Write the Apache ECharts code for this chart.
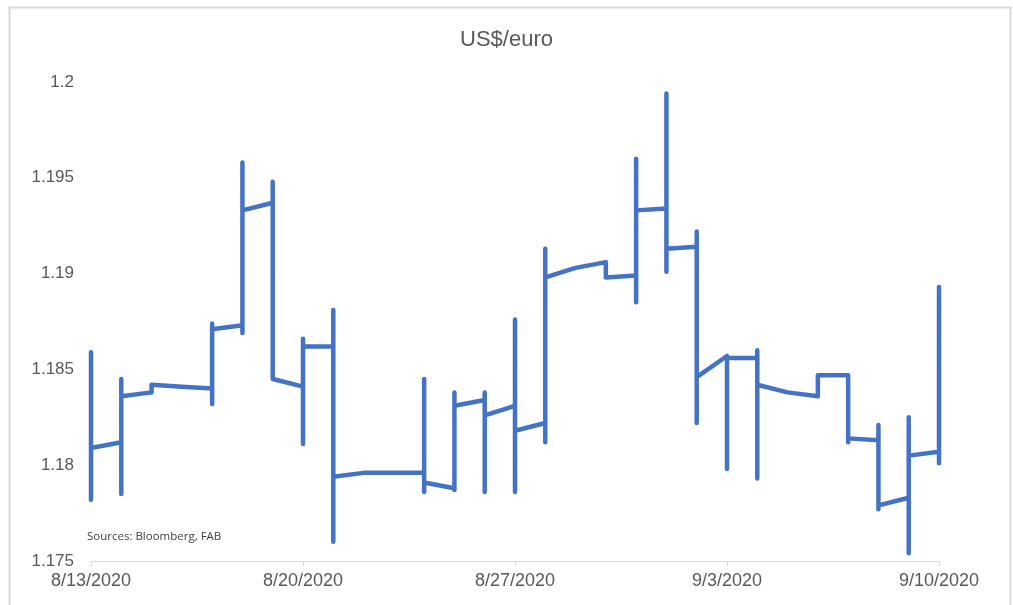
<!DOCTYPE html>
<html>
<head>
<meta charset="utf-8">
<script src="https://cdn.jsdelivr.net/npm/echarts@6/dist/echarts.min.js"></script>
<style>
html,body{margin:0;padding:0;background:#fff;}
#chart{width:1013px;height:605px;}
</style>
</head>
<body>
<div id="chart"></div>
<script>
// Daily path of US$/euro (entry, high, low, exit for each calendar day with data)
const dates = ['2020-08-13','2020-08-14','2020-08-15','2020-08-16','2020-08-17','2020-08-18','2020-08-19','2020-08-20','2020-08-21','2020-08-22','2020-08-24','2020-08-25','2020-08-26','2020-08-27','2020-08-28','2020-08-29','2020-08-30','2020-08-31','2020-09-01','2020-09-02','2020-09-03','2020-09-04','2020-09-05','2020-09-06','2020-09-07','2020-09-08','2020-09-09','2020-09-10'];
const opens  = [1.1830,1.1812,1.1838,1.1841,1.1840,1.1873,1.1937,1.1841,1.1862,1.1796,1.1796,1.1788,1.1834,1.1831,1.1822,1.1903,1.1906,1.1899,1.1934,1.1914,1.1857,1.1856,1.1838,1.1836,1.1847,1.1813,1.1783,1.1807];
const highs  = [1.1859,1.1845,1.1842,1.1841,1.1874,1.1958,1.1948,1.1866,1.1881,1.1797,1.1845,1.1838,1.1838,1.1876,1.1913,1.1903,1.1906,1.1960,1.1994,1.1922,1.1857,1.1860,1.1838,1.1847,1.1848,1.1821,1.1825,1.1893];
const lows   = [1.1782,1.1785,1.1838,1.1840,1.1832,1.1869,1.1845,1.1811,1.1760,1.1796,1.1786,1.1787,1.1786,1.1786,1.1812,1.1903,1.1898,1.1885,1.1901,1.1822,1.1798,1.1793,1.1838,1.1836,1.1812,1.1777,1.1754,1.1801];
const closes = [1.1809,1.1836,1.1842,1.1840,1.1871,1.1933,1.1846,1.1862,1.1794,1.1797,1.1791,1.1831,1.1826,1.1818,1.1898,1.1903,1.1898,1.1933,1.1913,1.1846,1.1856,1.1842,1.1838,1.1847,1.1814,1.1779,1.1805,1.1801];
const tickDates = ['8/13/2020','8/20/2020','8/27/2020','9/3/2020','9/10/2020'];
const yMin = 1.175, yMax = 1.2, yStep = 0.005;

const DAY = 86400000;
const t0 = Date.parse(dates[0] + 'T00:00:00Z');
const dayIndex = d => Math.round((Date.parse(d + 'T00:00:00Z') - t0) / DAY);
const points = [];
dates.forEach((d, i) => {
  const x = dayIndex(d);
  points.push([x, opens[i]], [x, highs[i]], [x, lows[i]], [x, closes[i]]);
});
const lastX = dayIndex(dates[dates.length - 1]);

const chart = echarts.init(document.getElementById('chart'), null, {renderer: 'canvas'});
chart.setOption({
  animation: false,
  backgroundColor: '#ffffff',
  title: {
    text: 'US$/euro',
    left: 'center',
    top: 24,
    textStyle: {fontFamily: 'Liberation Sans, Arial, sans-serif', fontSize: 22, fontWeight: 'normal', color: '#595959'}
  },
  grid: {left: 91, right: 74, top: 82, bottom: 44, containLabel: false},
  xAxis: {
    type: 'value',
    min: 0,
    max: lastX,
    interval: 7,
    axisLine: {show: true, lineStyle: {color: '#d9d9d9', width: 1}},
    axisTick: {show: true, length: 5, lineStyle: {color: '#d9d9d9'}},
    splitLine: {show: false},
    axisLabel: {
      margin: 11,
      fontFamily: 'Liberation Sans, Arial, sans-serif',
      fontSize: 18,
      color: '#595959',
      formatter: v => tickDates[Math.round(v / 7)] || ''
    }
  },
  yAxis: {
    type: 'value',
    min: yMin,
    max: yMax,
    interval: yStep,
    axisLine: {show: false},
    axisTick: {show: false},
    splitLine: {show: false},
    axisLabel: {
      margin: 17,
      fontFamily: 'Liberation Sans, Arial, sans-serif',
      fontSize: 17,
      color: '#595959',
      formatter: v => String(+v.toFixed(3))
    }
  },
  series: [{
    type: 'line',
    data: points,
    showSymbol: false,
    symbol: 'none',
    lineStyle: {color: '#4472C4', width: 4.5, cap: 'round', join: 'round'},
    z: 3
  }],
  graphic: [
    {
      type: 'rect',
      left: 7, top: 5,
      shape: {width: 1001, height: 620},
      style: {fill: 'none', stroke: '#d9d9d9', lineWidth: 2},
      silent: true
    },
    {
      type: 'text',
      left: 87, top: 531,
      style: {text: 'Sources: Bloomberg, FAB', font: '11.5px "Open Sans", sans-serif', fill: '#404040'},
      silent: true
    }
  ]
});
</script>
</body>
</html>
